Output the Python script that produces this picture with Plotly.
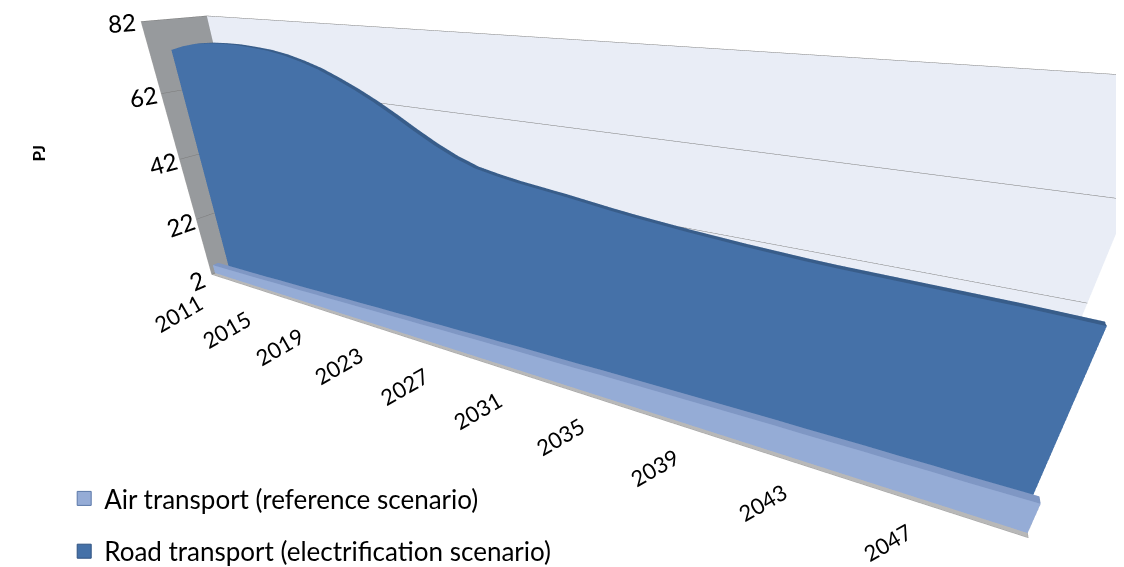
import plotly.graph_objects as go

years = list(range(2011, 2051))
road = [73.6, 75.0, 76.0, 76.5, 76.7, 76.7, 76.4, 76.0, 75.2, 74.0,
        72.5, 70.5, 68.3, 65.8, 63.0, 60.0, 57.2, 54.8, 53.0, 52.0,
        51.2, 50.6, 50.0, 49.3, 48.6, 48.0, 47.5, 47.0, 46.6, 46.2,
        45.9, 45.6, 45.4, 45.3, 45.2, 45.1, 45.0, 44.9, 44.7, 44.5]
air = [5.0, 5.1, 5.2, 5.3, 5.4, 5.6, 5.7, 5.8, 6.0, 6.1,
       6.3, 6.4, 6.6, 6.7, 6.9, 7.0, 7.2, 7.3, 7.5, 7.6,
       7.8, 7.9, 8.0, 8.1, 8.3, 8.4, 8.5, 8.6, 8.7, 8.8,
       8.9, 9.0, 9.0, 9.1, 9.2, 9.2, 9.3, 9.3, 9.4, 9.5]
tick_years = [2011, 2015, 2019, 2023, 2027, 2031, 2035, 2039, 2043, 2047]
z_ticks = [2, 22, 42, 62, 82]
series_names = ["Air transport (reference scenario)", "Road transport (electrification scenario)"]

AIR_FRONT, AIR_TOP, AIR_END = "#95ACD6", "#7F97C4", "#8A8E96"
ROAD_FRONT, ROAD_TOP, ROAD_END = "#4571A8", "#385D8A", "#2F5280"
BASE = 2

def flat(c):
    return [[0, c], [1, c]]

LIGHT = dict(ambient=1.0, diffuse=0.0, specular=0.0, roughness=1.0, fresnel=0.0)

def prism(vals, d0, d1, cf, ct, ce):
    n = len(years)
    tr = []
    tr.append(go.Surface(x=[years, years], y=[[d0] * n, [d0] * n], z=[[BASE] * n, vals],
                         surfacecolor=[[0] * n, [0] * n], colorscale=flat(cf), cmin=0, cmax=1,
                         showscale=False, lighting=LIGHT, hoverinfo="skip"))
    tr.append(go.Surface(x=[years, years], y=[[d0] * n, [d1] * n], z=[vals, vals],
                         surfacecolor=[[0] * n, [0] * n], colorscale=flat(ct), cmin=0, cmax=1,
                         showscale=False, lighting=LIGHT, hoverinfo="skip"))
    xe = years[-1]
    tr.append(go.Surface(x=[[xe, xe], [xe, xe]], y=[[d0, d1], [d0, d1]],
                         z=[[BASE, BASE], [vals[-1], vals[-1]]],
                         surfacecolor=[[0, 0], [0, 0]], colorscale=flat(ce), cmin=0, cmax=1,
                         showscale=False, lighting=LIGHT, hoverinfo="skip"))
    return tr

fig = go.Figure()
for t in prism(road, 0.32, 0.40, ROAD_FRONT, ROAD_TOP, ROAD_END):
    fig.add_trace(t)
for t in prism(air, 0.06, 0.16, AIR_FRONT, AIR_TOP, AIR_END):
    fig.add_trace(t)

for name, col, edge in [(series_names[0], AIR_FRONT, "#5A78A8"), (series_names[1], ROAD_FRONT, "#2F5280")]:
    fig.add_trace(go.Scatter3d(x=[None], y=[None], z=[None], mode="markers", name=name,
                               legendgroup=name,
                               marker=dict(symbol="square", size=14, color=col,
                                           line=dict(color=edge, width=1))))

annots = [dict(x=yr, y=0.0, z=BASE, text=str(yr), showarrow=False, textangle=-30,
               xanchor="right", yanchor="top", xshift=-2, yshift=-12,
               font=dict(size=22, color="black", family="Lato")) for yr in tick_years]

fig.update_layout(
    width=1124, height=567,
    margin=dict(l=0, r=0, t=0, b=0),
    paper_bgcolor="white",
    font=dict(family="Lato", color="black"),
    showlegend=True,
    legend=dict(x=0.05, y=0.0, xanchor="left", yanchor="bottom", tracegroupgap=16, itemwidth=30,
                font=dict(size=26, color="black", family="Lato"), bgcolor="rgba(0,0,0,0)"),
    scene=dict(
        domain=dict(x=[0, 1], y=[0.06, 1]),
        xaxis=dict(range=[2011, 2050], showgrid=False, showticklabels=False, title=dict(text=""),
                   showbackground=True, backgroundcolor="#979A9D", showline=True, linecolor="#A0A0A0",
                   zeroline=False, showspikes=False, ticks=""),
        yaxis=dict(range=[0, 1], showgrid=False, showticklabels=False, title=dict(text=""),
                   showbackground=True, backgroundcolor="#E9EDF6", showline=True, linecolor="#A0A0A0",
                   zeroline=False, showspikes=False, ticks=""),
        zaxis=dict(range=[BASE, 82], tickvals=z_ticks, showgrid=True, gridcolor="#7A7A7A", gridwidth=1,
                   title=dict(text=""), tickfont=dict(size=17, color="black", family="Lato"),
                   showbackground=True, backgroundcolor="#B8B8B8", showline=True, linecolor="#A0A0A0",
                   zeroline=False, showspikes=False, ticks=""),
        aspectmode="manual", aspectratio=dict(x=3.45, y=0.3, z=1.18),
        camera=dict(eye=dict(x=1.2, y=-1.85, z=0.85), center=dict(x=0.22, y=0, z=-0.2), up=dict(x=0, y=0, z=1),
                    projection=dict(type="perspective")),
        annotations=annots,
    ),
    annotations=[dict(x=0.016, y=0.762, xref="paper", yref="paper", text="<b>PJ</b>", showarrow=False,
                      textangle=-90, font=dict(size=17, color="black", family="Lato"))],
)

fig.write_html("out.html")
